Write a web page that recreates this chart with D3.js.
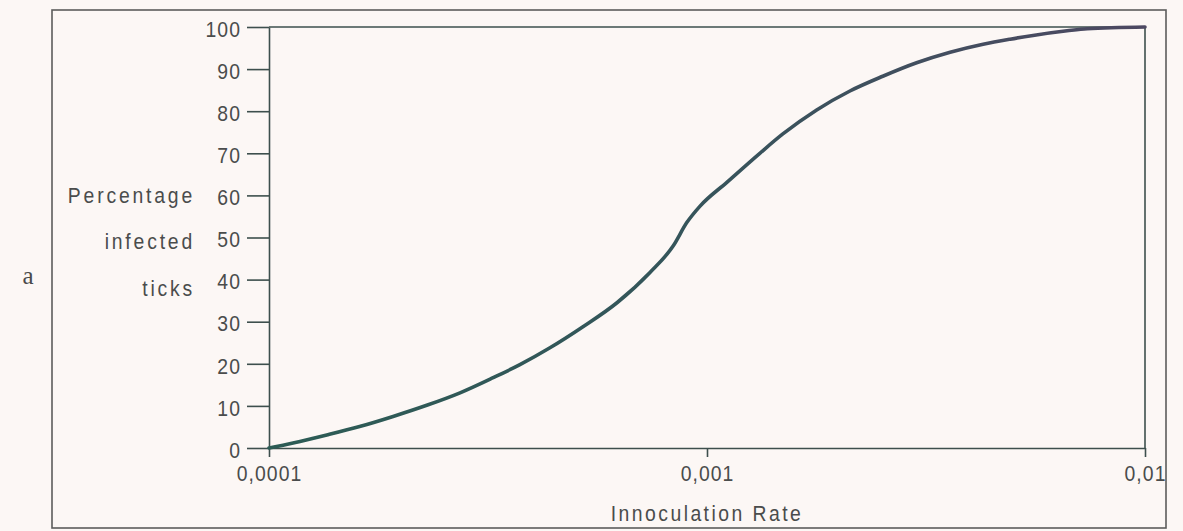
<!DOCTYPE html>
<html>
<head>
<meta charset="utf-8">
<script src="https://cdn.jsdelivr.net/npm/d3@7"></script>
<style>
  html, body { margin: 0; padding: 0; background: #fcf7f5; }
  svg { display: block; }
  .lbl { font-family: "Liberation Sans", Arial, sans-serif; fill: #4a4c4c; }
</style>
</head>
<body>
<svg id="chart" width="1183" height="531"></svg>
<script>
// ---- data ----
const xValues = [0.0001, 0.0001135, 0.0001355, 0.000161, 0.000192, 0.00023, 0.000273, 0.000325, 0.000374,
  0.000438, 0.000521, 0.000623, 0.000741, 0.000836, 0.0009, 0.000963, 0.00111, 0.00132, 0.00149,
  0.00178, 0.00212, 0.00252, 0.00301, 0.00359, 0.00427, 0.00492, 0.00555, 0.00664, 0.00738, 0.01];
const percentInfected = [0, 1.2, 3.1, 5.1, 7.5, 10.2, 13.1, 16.7, 19.8,
  23.8, 28.8, 34.5, 41.7, 47.9, 53.6, 57.4, 63.1, 70.0, 74.6,
  80.3, 84.8, 88.3, 91.5, 94.0, 95.9, 97.1, 98.0, 99.1, 99.6, 100];
const yTicks = [0, 10, 20, 30, 40, 50, 60, 70, 80, 90, 100];
const xTicks = [0.0001, 0.001, 0.01];
const xTickLabels = ["0,0001", "0,001", "0,01"];
const yTitleLines = ["Percentage", "infected", "ticks"];
const xTitle = "Innoculation Rate";
const panelLabel = "a";

// ---- drawing ----
const svg = d3.select("#chart");
const axisColor = "#3d4f4d";
const SX = 0.88;   // condensed look
const FS = 22;

const x = d3.scaleLog().domain([0.0001, 0.01]).range([269, 1145]);
const y = d3.scaleLinear().domain([0, 100]).range([448, 27]);

// outer frame
svg.append("rect").attr("x", 52).attr("y", 10).attr("width", 1114).attr("height", 518)
  .attr("fill", "none").attr("stroke", "#5c5c5c").attr("stroke-width", 1.6);

// panel label
svg.append("text").attr("x", 28).attr("y", 284).attr("text-anchor", "middle")
  .attr("font-family", "'Liberation Serif', 'DejaVu Serif', serif").attr("font-size", 25)
  .attr("fill", "#4a4a4a").text(panelLabel);

// y axis
const yAxis = svg.append("g").attr("transform", `translate(${x(0.0001)},0)`)
  .call(d3.axisLeft(y).tickValues(yTicks).tickSize(22).tickPadding(6).tickSizeOuter(0));
yAxis.select(".domain").attr("stroke", axisColor).attr("stroke-width", 1.6);
yAxis.selectAll(".tick line").attr("stroke", axisColor).attr("stroke-width", 1.6);
yAxis.selectAll(".tick text").attr("class", "lbl").attr("font-size", FS).attr("dy", "0.42em")
  .attr("x", -28 / SX).attr("transform", `scale(${SX},1)`)
  .attr("letter-spacing", 1.2).attr("fill", "#4a4c4c");

// x axis
const xAxis = svg.append("g").attr("transform", `translate(0,${y(0)})`)
  .call(d3.axisBottom(x).tickValues(xTicks).tickSize(9).tickPadding(8).tickSizeOuter(0)
    .tickFormat((d, i) => xTickLabels[i]));
xAxis.select(".domain").attr("stroke", axisColor).attr("stroke-width", 1.6);
xAxis.selectAll(".tick line").attr("stroke", axisColor).attr("stroke-width", 1.6);
xAxis.selectAll(".tick text").attr("class", "lbl").attr("font-size", FS)
  .attr("transform", `scale(${SX},1)`)
  .attr("letter-spacing", 1.2).attr("fill", "#4a4c4c");

// top and right frame of plot
svg.append("line").attr("x1", x(0.0001)).attr("x2", x(0.01)).attr("y1", y(100)).attr("y2", y(100))
  .attr("stroke", axisColor).attr("stroke-width", 1.6);
svg.append("line").attr("x1", x(0.01)).attr("x2", x(0.01)).attr("y1", y(100)).attr("y2", y(0))
  .attr("stroke", axisColor).attr("stroke-width", 1.6);

// y title
svg.append("g").selectAll("text").data(yTitleLines).join("text")
  .attr("class", "lbl")
  .attr("transform", (d, i) => `translate(195,${[203, 249, 296][i]}) scale(${SX},1)`)
  .attr("text-anchor", "end").attr("font-size", FS).attr("letter-spacing", 3.2).text(d => d);

// x title
svg.append("text").attr("class", "lbl")
  .attr("transform", `translate(707,521) scale(${SX},1)`).attr("text-anchor", "middle")
  .attr("font-size", FS).attr("letter-spacing", 2.8).text(xTitle);

// gradient for curve
const defs = svg.append("defs");
const grad = defs.append("linearGradient").attr("id", "cg").attr("gradientUnits", "userSpaceOnUse")
  .attr("x1", x(0.0001)).attr("x2", x(0.01)).attr("y1", 0).attr("y2", 0);
grad.append("stop").attr("offset", "0%").attr("stop-color", "#2c5c55");
grad.append("stop").attr("offset", "45%").attr("stop-color", "#34555a");
grad.append("stop").attr("offset", "100%").attr("stop-color", "#4d4862");

const data = xValues.map((v, i) => ({ x: v, y: percentInfected[i] }));
const line = d3.line().x(d => x(d.x)).y(d => y(d.y)).curve(d3.curveMonotoneX);
svg.append("path").datum(data).attr("d", line).attr("fill", "none")
  .attr("stroke", "url(#cg)").attr("stroke-width", 3.6).attr("stroke-linecap", "round");
</script>
</body>
</html>
